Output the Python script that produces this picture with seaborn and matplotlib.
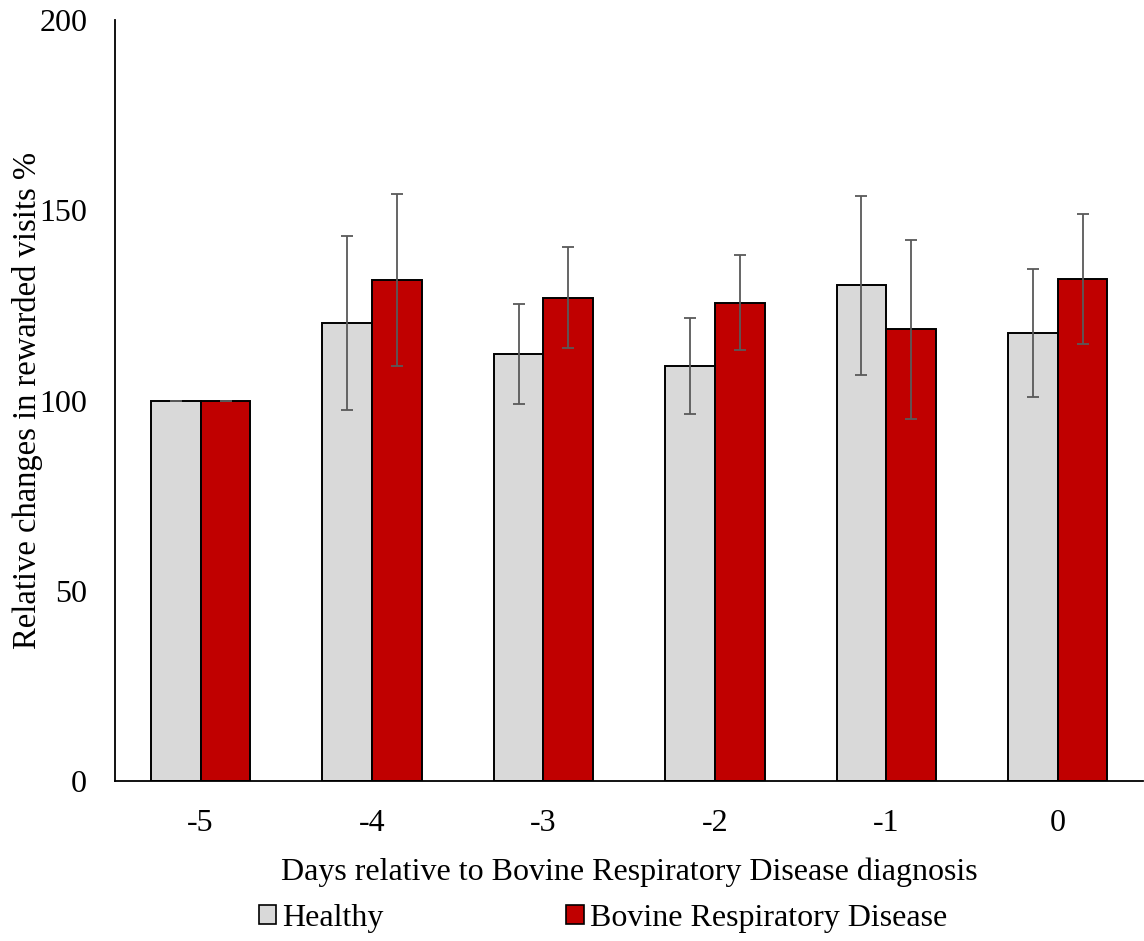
import numpy as np
import pandas as pd
import seaborn as sns
import matplotlib.pyplot as plt

days = ["-5", "-4", "-3", "-2", "-1", "0"]
groups = ["Healthy", "Bovine Respiratory Disease"]
healthy = [100, 120.4, 112.2, 109.2, 130.3, 117.8]
healthy_err = [0, 22.8, 13.1, 12.6, 23.5, 16.9]
brd = [100, 131.7, 127.1, 125.7, 118.7, 132.0]
brd_err = [0, 22.7, 13.2, 12.5, 23.4, 17.1]
colors = ["#D9D9D9", "#C00000"]

data = pd.DataFrame({
    "day": days * 2,
    "group": [groups[0]] * 6 + [groups[1]] * 6,
    "value": healthy + brd,
})

sns.set_style("white")
plt.rcParams['font.family'] = ['Liberation Serif', 'DejaVu Serif']
plt.rcParams['text.color'] = 'black'
plt.rcParams['axes.labelcolor'] = 'black'
plt.rcParams['xtick.color'] = 'black'
plt.rcParams['ytick.color'] = 'black'

fig = plt.figure(figsize=(11.44, 9.41), dpi=100)
ax = fig.add_axes([0.1005, 0.170, 0.899, 0.8085])

sns.barplot(data=data, x="day", y="value", hue="group", order=days, hue_order=groups,
            palette=colors, width=0.58, errorbar=None, edgecolor="black", linewidth=1.4,
            saturation=1, ax=ax)

# error bars at bar centers
errs = healthy_err + brd_err
vals = healthy + brd
bars = [p for p in ax.patches if p.get_height() > 0][:12]
for p, v, e in zip(bars, vals, errs):
    ax.errorbar(p.get_x() + p.get_width() / 2, v, yerr=e, color="#595959",
                elinewidth=1.3, capsize=4.5, capthick=1.3, zorder=5)

ax.set_ylim(0, 200)
ax.set_xlim(-0.5, 5.5)
ax.set_yticks([0, 50, 100, 150, 200])
ax.tick_params(axis="both", length=0, labelsize=23)
ax.tick_params(axis="y", pad=20)
ax.tick_params(axis="x", pad=20)
ax.set_xlabel("Days relative to Bovine Respiratory Disease diagnosis", fontsize=23, labelpad=14)
ax.set_ylabel("Relative changes in rewarded visits %", fontsize=23.5, labelpad=-3)
sns.despine(ax=ax)
for s in ["left", "bottom"]:
    ax.spines[s].set_color("black")
    ax.spines[s].set_linewidth(1.3)

ax.legend_.remove()
handles = [plt.Rectangle((0, 0), 1, 1, facecolor=c, edgecolor="black", linewidth=1.2) for c in colors]
fig.legend(handles, groups, loc="center", bbox_to_anchor=(0.527, 0.024), ncol=2, frameon=False,
           fontsize=23, handlelength=0.55, handleheight=0.55, handletextpad=0.2, columnspacing=5.7)

fig.savefig("out.png", dpi=100)
